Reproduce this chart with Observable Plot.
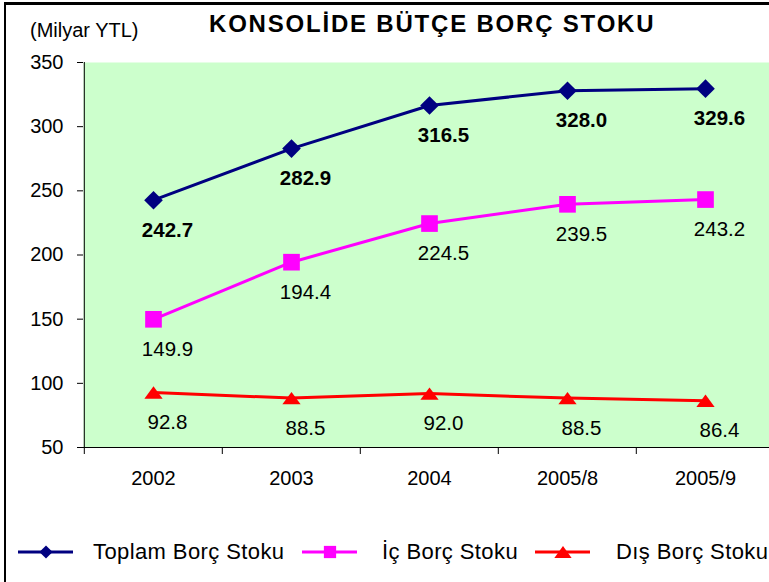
<!DOCTYPE html>
<html><head><meta charset="utf-8">
<script src="https://cdn.jsdelivr.net/npm/d3@7"></script>
<script src="https://cdn.jsdelivr.net/npm/@observablehq/plot@0.6"></script>
<style>
html,body{margin:0;padding:0;background:#fff;overflow:hidden;}
#wrap{position:relative;width:769px;height:582px;overflow:hidden;font-family:"Liberation Sans",Arial,sans-serif;color:#000;}
#bt{position:absolute;left:4px;top:2px;width:800px;height:2.5px;background:#000;}
#bl{position:absolute;left:4px;top:2px;width:2px;height:600px;background:#000;}
#title{position:absolute;left:209px;top:12px;font-size:24px;line-height:24px;font-weight:bold;letter-spacing:1.8px;white-space:nowrap;}
#unit{position:absolute;left:30px;top:20px;font-size:20px;line-height:20px;white-space:nowrap;}
#chart{position:absolute;left:0;top:0;width:800px;}
#legend{position:absolute;left:0;top:540px;width:800px;height:26px;}
.li{position:absolute;top:0;height:26px;}
.lt{position:absolute;top:0px;font-size:22px;line-height:24px;letter-spacing:0.4px;white-space:nowrap;}
</style></head><body>
<div id="wrap">
  <div id="chart"></div>
  <div id="bt"></div><div id="bl"></div>
  <div id="title">KONSOLİDE BÜTÇE BORÇ STOKU</div>
  <div id="unit">(Milyar YTL)</div>
  <div id="legend"></div>
</div>
<script>
const categories = ["2002", "2003", "2004", "2005/8", "2005/9"];
const toplam = [242.7, 282.9, 316.5, 328.0, 329.6];
const ic = [149.9, 194.4, 224.5, 239.5, 243.2];
const dis = [92.8, 88.5, 92.0, 88.5, 86.4];
const seriesNames = ["Toplam Borç Stoku", "İç Borç Stoku", "Dış Borç Stoku"];
const yTicks = [50, 100, 150, 200, 250, 300, 350];

const colors = ["#000080", "#FF00FF", "#FF0000"];
const flatTriangle = {
  draw(ctx, size) {
    const s = Math.sqrt(size);
    const hw = s * 0.5, hh = s * 0.34;
    ctx.moveTo(0, -hh);
    ctx.lineTo(hw, hh);
    ctx.lineTo(-hw, hh);
    ctx.closePath();
  }
};
const symbols = ["diamond2", "square", flatTriangle];
const radii = [8.4, 9.4, 10.3];
const weights = ["bold", "normal", "normal"];
const valuesBySeries = [toplam, ic, dis];

const rows = [];
seriesNames.forEach((s, si) => {
  categories.forEach((c, ci) => rows.push({series: s, cat: c, value: valuesBySeries[si][ci], si}));
});

const W = 777, H = 500, ML = 83, MR = 2, MT = 62, MB = 53;
const bw = (W - ML - MR) / categories.length;

const marks = [
  Plot.frame({fill: "#CCFFCC", stroke: null}),
  Plot.ruleY([50], {stroke: "#000", strokeWidth: 1}),
  Plot.ruleX(["2002"], {x: d => d, y1: 50, y2: 350, dx: -bw / 2, stroke: "#000", strokeWidth: 1}),
  Plot.axisX({tickSize: 7, tickFormat: () => "", dx: -bw / 2, stroke: "#000", label: null}),
  Plot.axisX({tickSize: 0, tickPadding: 23, fontSize: 20, fill: "#000", label: null}),
  Plot.axisY({ticks: yTicks, tickSize: 6, tickPadding: 14, fontSize: 20, fill: "#000", stroke: "#000", tickFormat: d => String(d), label: null})
];
seriesNames.forEach((s, si) => {
  const d = rows.filter(r => r.si === si);
  marks.push(Plot.line(d, {x: "cat", y: "value", stroke: colors[si], strokeWidth: 3}));
});
seriesNames.forEach((s, si) => {
  const d = rows.filter(r => r.si === si);
  marks.push(Plot.dot(d, {x: "cat", y: "value", symbol: () => symbols[si], r: radii[si], fill: colors[si], stroke: null}));
  marks.push(Plot.text(d, {x: "cat", y: "value", text: r => r.value.toFixed(1), dx: 14, dy: 30, fontSize: 20.5, fontWeight: weights[si], fill: "#000"}));
});

const chart = Plot.plot({
  width: W, height: H,
  marginLeft: ML, marginRight: MR, marginTop: MT, marginBottom: MB,
  style: {fontFamily: "'Liberation Sans', Arial, sans-serif", color: "#000", background: "transparent", overflow: "visible", maxWidth: "none"},
  x: {type: "band", domain: categories, padding: 0, axis: null, label: null},
  y: {domain: [50, 350], axis: null, label: null},
  symbol: {type: "identity"},
  marks
});
chart.style.maxWidth = "none";
document.getElementById("chart").appendChild(chart);

// legend
const legendPos = [[18, 93], [302, 382], [535, 616]];
const legend = document.getElementById("legend");
seriesNames.forEach((s, si) => {
  const [gx, tx] = legendPos[si];
  const item = document.createElement("div");
  item.className = "li";
  item.style.left = gx + "px";
  const svg = d3.create("svg").attr("width", 56).attr("height", 26);
  svg.append("line").attr("x1", 0).attr("x2", 55).attr("y1", 12).attr("y2", 12)
    .attr("stroke", colors[si]).attr("stroke-width", 3);
  const sym = si === 0 ? d3.symbol(d3.symbolDiamond2, 110) : si === 1 ? d3.symbol(d3.symbolSquare, 150) : d3.symbol(flatTriangle, 300);
  svg.append("path").attr("d", sym()).attr("transform", "translate(28,12)").attr("fill", colors[si]);
  item.appendChild(svg.node());
  legend.appendChild(item);
  const t = document.createElement("div");
  t.className = "lt";
  t.style.left = tx + "px";
  t.textContent = s;
  legend.appendChild(t);
});
</script>
</body></html>
